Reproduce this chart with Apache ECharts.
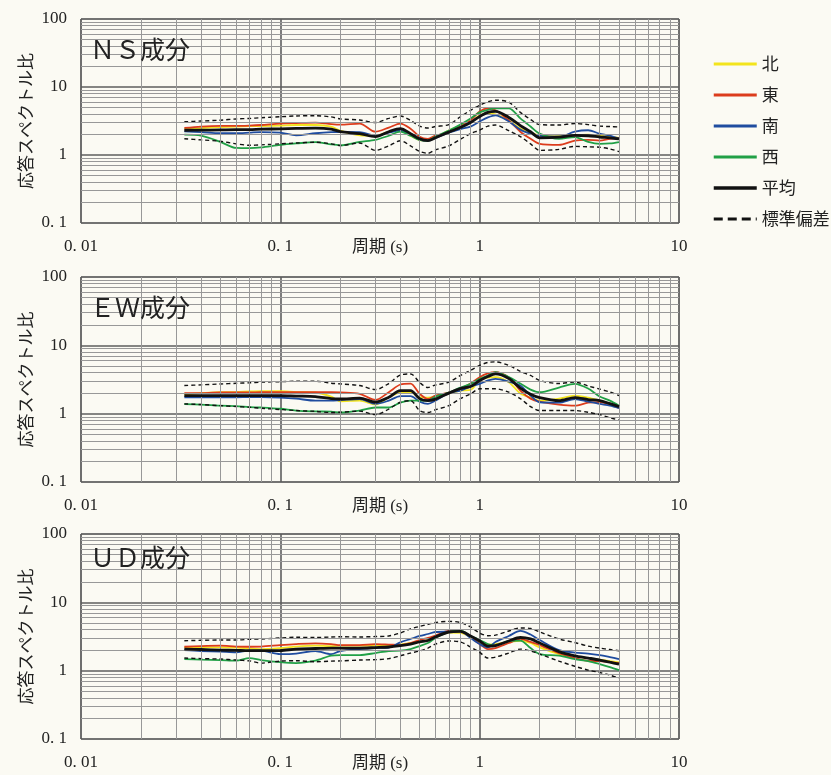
<!DOCTYPE html>
<html><head><meta charset="utf-8">
<script src="https://cdn.jsdelivr.net/npm/echarts@6/dist/echarts.min.js"></script>
<style>html,body{margin:0;padding:0;background:#fbfaf3;}#c{width:831px;height:775px;}</style>
</head><body><div id="c"></div>
<script>
// Periods (s)
const periods = [0.033,0.04,0.05,0.06,0.07,0.08,0.1,0.12,0.15,0.18,0.2,0.25,0.3,0.35,0.4,0.45,0.5,0.55,0.6,0.7,0.8,0.9,1.0,1.1,1.2,1.4,1.6,1.8,2.0,2.5,3.0,3.5,4.0,4.5,5.0];

// NS component
const nsNorth = [2.39,2.49,2.57,2.62,2.65,2.66,2.71,2.76,2.76,2.62,2.28,1.94,1.92,2.20,2.36,1.92,1.65,1.62,1.79,2.28,2.71,3.0,3.82,4.09,3.95,3.22,2.44,2.13,1.95,1.90,1.95,1.99,1.92,1.86,1.79];
const nsEast  = [2.50,2.62,2.68,2.68,2.71,2.76,2.90,2.95,3.0,2.85,2.80,2.90,2.20,2.53,2.90,2.44,1.86,1.73,1.92,2.13,2.62,3.22,4.38,4.86,4.54,3.22,2.20,1.73,1.46,1.41,1.63,1.67,1.63,1.73,1.77];
const nsSouth = [2.23,2.17,2.09,2.09,2.13,2.17,2.13,1.95,2.09,2.17,2.18,2.17,1.92,2.13,2.28,1.99,1.67,1.62,1.79,2.13,2.40,2.62,3.11,3.57,3.82,3.11,2.36,2.06,1.92,1.86,2.20,2.31,2.06,1.92,1.73];
const nsWest  = [1.99,1.92,1.56,1.27,1.26,1.29,1.41,1.48,1.55,1.43,1.39,1.56,1.67,1.92,2.20,1.92,1.67,1.63,1.86,2.28,2.80,3.45,4.24,4.62,4.86,4.86,3.45,2.62,2.06,1.73,1.83,1.56,1.46,1.48,1.55];
const nsMean  = [2.31,2.32,2.34,2.36,2.36,2.40,2.42,2.46,2.48,2.40,2.20,2.06,1.86,2.20,2.44,2.06,1.73,1.63,1.79,2.17,2.53,3.0,3.69,4.24,4.38,3.57,2.71,2.20,1.79,1.83,1.95,1.92,1.84,1.79,1.73];
const nsUpper = [3.08,3.16,3.25,3.39,3.45,3.53,3.65,3.75,3.78,3.63,3.39,3.27,3.0,3.45,3.75,3.22,2.66,2.49,2.62,2.80,3.65,4.54,5.39,6.07,6.40,5.97,4.24,3.33,2.80,2.76,2.90,2.80,2.66,2.62,2.59];
const nsLower = [1.73,1.67,1.59,1.46,1.39,1.41,1.46,1.50,1.54,1.46,1.38,1.50,1.17,1.36,1.62,1.36,1.13,1.06,1.19,1.36,1.70,2.06,2.32,2.66,2.76,2.28,1.86,1.46,1.17,1.21,1.34,1.32,1.30,1.23,1.12];

// EW component
const ewNorth = [1.90,2.00,2.06,2.07,2.11,2.13,2.13,2.07,2.04,1.78,1.52,1.55,1.36,1.74,2.04,2.06,1.74,1.72,1.78,1.97,2.18,2.23,3.06,3.38,3.42,2.89,1.97,1.72,1.55,1.66,1.84,1.72,1.55,1.40,1.27];
const ewEast  = [1.99,2.00,2.04,2.04,2.04,2.06,2.06,2.06,2.06,2.06,2.04,1.95,1.59,2.06,2.67,2.76,1.95,1.64,1.84,2.04,2.31,2.76,3.42,3.88,4.05,3.38,2.18,1.66,1.50,1.36,1.31,1.45,1.48,1.36,1.21];
const ewSouth = [1.74,1.74,1.74,1.74,1.75,1.75,1.72,1.66,1.55,1.55,1.58,1.64,1.39,1.55,1.81,1.81,1.50,1.39,1.55,2.00,2.18,2.50,2.73,3.06,3.24,2.95,2.58,1.84,1.47,1.45,1.64,1.50,1.39,1.31,1.21];
const ewWest  = [1.38,1.36,1.31,1.29,1.25,1.23,1.18,1.11,1.08,1.07,1.04,1.11,1.23,1.23,1.45,1.55,1.55,1.55,1.78,2.04,2.41,2.73,3.24,3.62,4.05,3.43,2.76,2.25,2.06,2.41,2.73,2.33,1.78,1.55,1.31];
const ewMean  = [1.84,1.84,1.84,1.84,1.84,1.84,1.84,1.81,1.78,1.66,1.64,1.69,1.48,1.74,2.18,2.18,1.66,1.55,1.63,2.00,2.33,2.50,3.06,3.50,3.81,3.27,2.37,1.93,1.72,1.55,1.72,1.61,1.55,1.40,1.27];
const ewUpper = [2.58,2.64,2.72,2.78,2.83,2.89,2.94,2.98,2.99,2.79,2.73,2.58,2.25,2.76,3.68,3.81,2.86,2.41,2.63,2.89,3.62,4.29,5.08,5.62,5.72,5.08,4.15,3.62,3.06,2.76,2.91,2.54,2.29,2.07,1.84];
const ewLower = [1.39,1.36,1.31,1.27,1.24,1.20,1.15,1.11,1.08,1.04,1.05,1.09,0.967,1.17,1.47,1.55,1.11,1.04,1.14,1.31,1.66,1.95,2.31,2.31,2.31,2.06,1.66,1.27,1.11,1.11,1.11,1.05,0.967,0.873,0.808];

// UD component
const udNorth = [2.19,2.19,2.19,2.18,2.11,2.07,2.14,2.25,2.32,2.29,2.32,2.32,2.33,2.37,2.41,2.54,2.63,2.81,3.11,3.62,3.56,3.11,2.60,2.41,2.45,2.63,2.74,2.54,2.19,1.75,1.61,1.53,1.45,1.38,1.32];
const udEast  = [2.24,2.29,2.32,2.25,2.24,2.25,2.37,2.45,2.51,2.45,2.37,2.37,2.45,2.41,2.37,2.54,2.81,3.01,3.27,3.81,3.75,3.11,2.45,2.07,2.14,2.54,2.91,2.63,2.37,1.81,1.53,1.39,1.38,1.33,1.29];
const udSouth = [2.00,1.94,1.90,1.85,1.97,1.96,1.75,1.78,1.94,1.75,1.94,2.07,2.14,2.18,2.60,2.91,3.22,3.44,3.68,3.72,3.75,3.01,2.45,2.19,2.63,3.22,3.81,3.38,2.81,2.00,1.84,1.78,1.69,1.58,1.48];
const udWest  = [1.48,1.45,1.43,1.40,1.53,1.43,1.33,1.29,1.40,1.66,1.69,1.69,1.81,1.94,1.96,2.07,2.29,2.54,3.01,3.68,3.85,3.22,2.81,2.45,2.32,2.72,2.76,2.14,1.75,1.66,1.48,1.38,1.25,1.13,1.02];
const udMean  = [2.07,2.04,2.00,1.98,1.96,1.96,1.97,2.07,2.11,2.14,2.14,2.14,2.18,2.22,2.32,2.45,2.63,2.76,3.11,3.68,3.75,3.22,2.72,2.29,2.33,2.72,3.06,2.91,2.54,1.90,1.65,1.53,1.43,1.33,1.25];
const udUpper = [2.74,2.78,2.81,2.81,2.88,2.91,3.01,3.08,3.06,3.11,3.14,3.11,3.16,3.22,3.56,4.08,4.44,4.75,5.08,5.26,5.08,4.36,3.56,3.25,3.31,3.81,4.22,4.15,3.68,2.91,2.58,2.29,2.14,2.04,1.96];
const udLower = [1.53,1.50,1.48,1.43,1.39,1.29,1.38,1.40,1.35,1.38,1.39,1.43,1.45,1.50,1.65,1.81,1.94,2.14,2.45,2.72,2.63,2.22,1.85,1.53,1.58,1.81,2.07,1.94,1.75,1.38,1.16,1.02,0.94,0.86,0.77];

const panelTitles = ['ＮＳ成分', 'ＥＷ成分', 'ＵＤ成分'];
const seriesNames = ['北', '東', '南', '西', '平均', '標準偏差'];
const xTickLabels = ['0. 01', '0. 1', '1', '10'];
const yTickLabels = ['0. 1', '1', '10', '100'];
const xAxisName = '周期 (s)';
const yAxisName = '応答スペクトル比';
const xMinorGrid = [0.02,0.03,0.04,0.05,0.06,0.07,0.08,0.09,0.2,0.3,0.4,0.5,0.6,0.7,0.8,0.9,2,3,4,5,6,7,8,9];
const yMinorGrid = [0.2,0.3,0.4,0.5,0.6,0.7,0.8,0.9,2,3,4,5,6,7,8,9,20,30,40,50,60,70,80,90];

const panels = [
  [nsNorth, nsEast, nsSouth, nsWest, nsMean, nsUpper, nsLower],
  [ewNorth, ewEast, ewSouth, ewWest, ewMean, ewUpper, ewLower],
  [udNorth, udEast, udSouth, udWest, udMean, udUpper, udLower]
];

const colors = { '北': '#f3e41c', '東': '#dc3c1c', '南': '#1f4c9f', '西': '#21a046', '平均': '#111111', '標準偏差': '#111111' };
const gridTops = [19, 277, 534];
const gridHeights = [204, 205, 205];
const titleTops = [37, 295, 545];

const serif = 'Liberation Serif, Noto Sans CJK JP, serif';
const cjk = 'Noto Sans CJK JP, sans-serif';

const grid = [], xAxis = [], yAxis = [], series = [], title = [];
const toPairs = arr => periods.map((p, k) => [p, arr[k]]);

panels.forEach((d, i) => {
  grid.push({ left: 81, top: gridTops[i], width: 598, height: gridHeights[i], show: true, borderColor: '#6a6a6a', borderWidth: 1, backgroundColor: 'transparent' });
  xAxis.push({
    type: 'log', logBase: 10, min: 0.01, max: 10, gridIndex: i,
    axisLine: { show: false }, axisTick: { show: false },
    splitLine: { show: true, lineStyle: { color: '#5e5e5e', width: 1.6 } },
    axisLabel: { showMinLabel: true, showMaxLabel: true, margin: 15, fontFamily: serif, fontSize: 17, color: '#222',
      formatter: v => xTickLabels[Math.round(Math.log10(v)) + 2] },
    name: xAxisName, nameLocation: 'middle', nameGap: 16, nameMoveOverlap: false,
    nameTextStyle: { fontFamily: serif, fontSize: 17, color: '#222' }
  });
  yAxis.push({
    type: 'log', logBase: 10, min: 0.1, max: 100, gridIndex: i,
    axisLine: { show: false }, axisTick: { show: false },
    splitLine: { show: true, lineStyle: { color: '#5e5e5e', width: 1.6 } },
    axisLabel: { showMinLabel: true, showMaxLabel: true, margin: 14, fontFamily: serif, fontSize: 17, color: '#222',
      formatter: v => yTickLabels[Math.round(Math.log10(v)) + 1] },
    name: yAxisName, nameLocation: 'middle', nameGap: 47, nameMoveOverlap: false,
    nameTextStyle: { fontFamily: cjk, fontSize: 17, color: '#222' }
  });
  title.push({ text: panelTitles[i], left: 90, top: titleTops[i], padding: 0,
    textStyle: { fontFamily: cjk, fontSize: 25, fontWeight: 'normal', color: '#222' } });

  // minor log grid lines
  series.push({
    type: 'line', xAxisIndex: i, yAxisIndex: i, data: [], silent: true, z: 1,
    markLine: { silent: true, symbol: ['none', 'none'], label: { show: false },
      lineStyle: { color: '#989898', width: 1, type: 'solid' },
      emphasis: { disabled: true },
      data: [...xMinorGrid.map(v => ({ xAxis: v })), ...yMinorGrid.map(v => ({ yAxis: v }))] }
  });

  const [n, e, s, w, m, up, lo] = d;
  [['北', n], ['東', e], ['南', s], ['西', w]].forEach(([nm, arr]) => {
    series.push({ name: nm, type: 'line', xAxisIndex: i, yAxisIndex: i, data: toPairs(arr), symbol: 'none', smooth: 0.3, z: 3,
      lineStyle: { color: colors[nm], width: 1.8 }, itemStyle: { color: colors[nm] } });
  });
  [up, lo].forEach(arr => {
    series.push({ name: '標準偏差', type: 'line', xAxisIndex: i, yAxisIndex: i, data: toPairs(arr), symbol: 'none', smooth: 0.3, z: 4,
      lineStyle: { color: '#111', width: 1.4, type: [4, 3] }, itemStyle: { color: '#111' } });
  });
  series.push({ name: '平均', type: 'line', xAxisIndex: i, yAxisIndex: i, data: toPairs(m), symbol: 'none', smooth: 0.3, z: 5,
    lineStyle: { color: '#111', width: 2.8 }, itemStyle: { color: '#111' } });
});

const legendLine = {
  '北': { width: 3 }, '東': { width: 3 }, '南': { width: 3 }, '西': { width: 3 },
  '平均': { width: 3.5 }, '標準偏差': { width: 3, type: [9, 5] }
};

const option = {
  backgroundColor: '#fbfaf3',
  animation: false,
  title,
  grid, xAxis, yAxis, series,
  legend: {
    orient: 'vertical', left: 712, top: 55, padding: 0, itemWidth: 43, itemHeight: 14, itemGap: 13,
    selectedMode: false,
    itemStyle: { opacity: 0 },
    textStyle: { fontFamily: cjk, fontSize: 17, color: '#222', lineHeight: 18 },
    data: seriesNames.map(nm => ({ name: nm, lineStyle: legendLine[nm], itemStyle: { opacity: 0 } }))
  }
};

const chart = echarts.init(document.getElementById('c'), null, { renderer: 'canvas' });
chart.setOption(option);
</script></body></html>
